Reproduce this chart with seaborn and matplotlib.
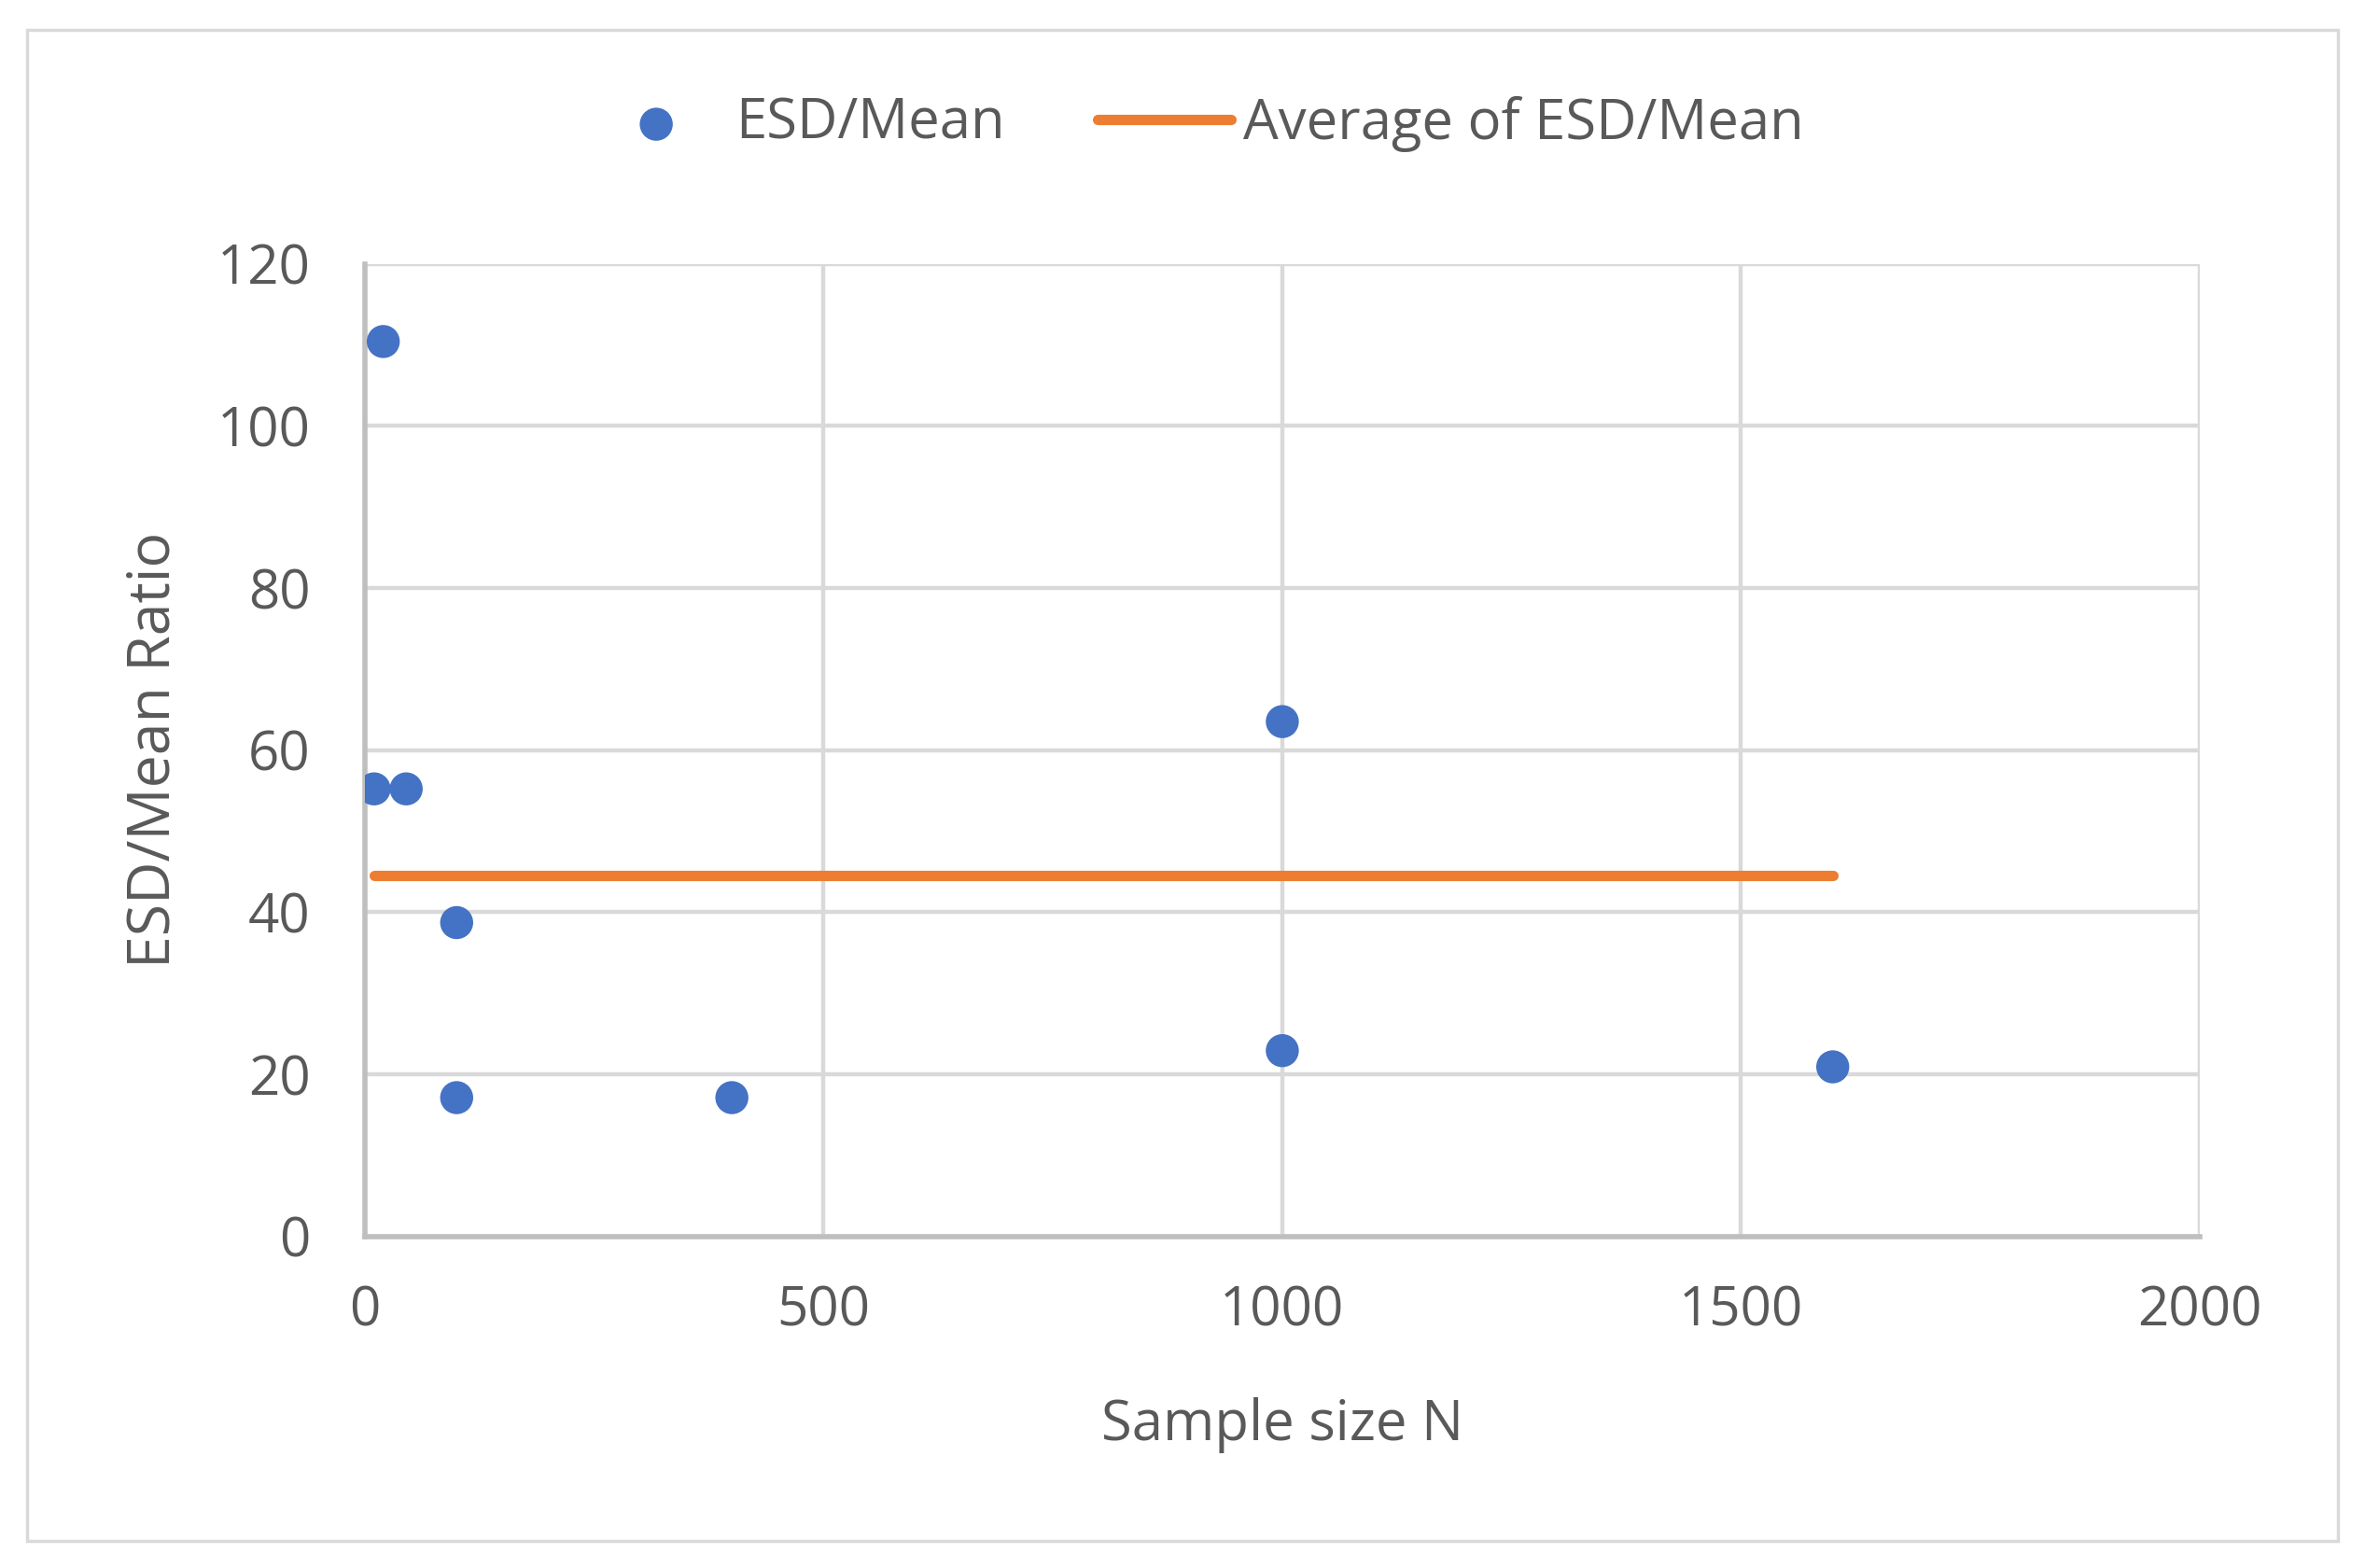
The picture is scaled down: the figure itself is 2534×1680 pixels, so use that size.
import numpy as np
import pandas as pd
import seaborn as sns
import matplotlib.pyplot as plt
from matplotlib.patches import Rectangle

# values
sample_n = [10, 20, 45, 100, 100, 400, 1000, 1000, 1600]
esd_mean = [55.2, 110.4, 55.2, 38.7, 17.1, 17.1, 63.5, 22.9, 20.9]
x_ticks = [0, 500, 1000, 1500, 2000]
y_ticks = [0, 20, 40, 60, 80, 100, 120]

blue = '#4472C4'
orange = '#ED7D31'
grey_txt = '#595959'
grid_col = '#d9d9d9'
axis_col = '#bfbfbf'

sns.set_theme(style='whitegrid')
plt.rcParams['font.family'] = ['Open Sans', 'DejaVu Sans']

df = pd.DataFrame({'N': sample_n, 'ratio': esd_mean})
avg = df['ratio'].mean()
avg_df = pd.DataFrame({'N': [df['N'].min(), df['N'].max()], 'ratio': [avg, avg]})

fig = plt.figure(figsize=(25.34, 16.8), dpi=100)
ax = fig.add_axes([0.1543, 0.2116, 0.7758, 0.6202])

sns.lineplot(data=avg_df, x='N', y='ratio', ax=ax, color=orange, lw=8,
             label='Average of ESD/Mean', zorder=2)
sns.scatterplot(data=df, x='N', y='ratio', ax=ax, color=blue, s=650,
                edgecolor='none', label='ESD/Mean', zorder=3)

ax.set_xlim(0, 2000)
ax.set_ylim(0, 120)
ax.set_xticks(x_ticks)
ax.set_yticks(y_ticks)
ax.grid(True, color=grid_col, lw=3.2)
for side in ['top', 'right']:
    ax.spines[side].set_visible(False)
for side in ['left', 'bottom']:
    ax.spines[side].set_color(axis_col)
    ax.spines[side].set_linewidth(4)
ax.tick_params(axis='both', length=0, labelsize=42, colors=grey_txt)
ax.tick_params(axis='y', pad=42)
ax.tick_params(axis='x', pad=37)

ax.set_xlabel('Sample size N', fontsize=43, color=grey_txt)
ax.set_ylabel('ESD/Mean Ratio', fontsize=45, color=grey_txt)
ax.xaxis.set_label_coords(0.5, -0.166)
ax.yaxis.set_label_coords(-0.099, 0.5)

# legend at the top, scatter entry first
handles, labels = ax.get_legend_handles_labels()
ax.get_legend().remove()
order = [labels.index('ESD/Mean'), labels.index('Average of ESD/Mean')]
leg = fig.legend([handles[i] for i in order], [labels[i] for i in order],
                 loc='center', bbox_to_anchor=(0.506, 0.921), ncol=2,
                 frameon=False, fontsize=43, columnspacing=1.66,
                 handlelength=2.4, handletextpad=0.22, markerscale=1.0)
for t in leg.get_texts():
    t.set_color(grey_txt)

# outer chart border
fig.patches.append(Rectangle((0.0115, 0.017), 0.977, 0.964, transform=fig.transFigure,
                             fill=False, edgecolor=grid_col, lw=2.5))

fig.savefig('out.png', dpi=100, facecolor='white')
